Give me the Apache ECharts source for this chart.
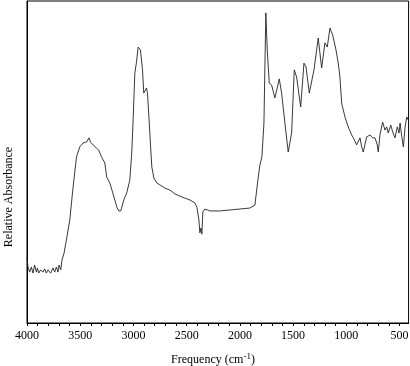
<!DOCTYPE html>
<html>
<head>
<meta charset="utf-8">
<script src="https://cdn.jsdelivr.net/npm/echarts@6/dist/echarts.min.js"></script>
<style>
html,body{margin:0;padding:0;background:#fff;}
#chart{width:410px;height:366px;}
</style>
</head>
<body>
<div id="chart"></div>
<script>
// Frequency (cm-1)
var frequency = [4000,3991,3975,3959,3944,3928,3912,3902,3890,3871,3850,3834,3818,3803,3777,3756,3740,3724,3709,3699,3683,3671,3652,3630,3598,3570,3535,3504,3473,3441,3426,3417,3404,3394,3379,3363,3347,3326,3300,3269,3251,3222,3194,3156,3138,3119,3091,3063,3034,3016,3003,2987,2971,2956,2947,2934,2915,2903,2893,2877,2868,2853,2837,2827,2808,2780,2752,2705,2658,2611,2564,2517,2470,2423,2404,2385,2376,2366,2357,2348,2329,2282,2188,2094,2000,1906,1859,1831,1812,1793,1774,1765,1756,1743,1724,1711,1702,1671,1630,1608,1577,1546,1514,1489,1467,1429,1398,1379,1348,1304,1264,1232,1201,1179,1154,1128,1097,1076,1060,1044,1013,982,950,934,903,872,856,841,809,778,752,731,709,700,684,659,637,621,606,583,564,543,521,505,495,479,464,448,432,418];
// Relative absorbance (arbitrary units)
var absorbance = [20.5,17.4,15.8,17.4,15.5,18.0,15.8,17.1,15.5,16.5,15.8,16.8,15.5,16.5,15.5,17.1,15.8,17.4,15.8,18.0,16.5,19.6,21.7,25.8,32.0,41.3,51.6,54.7,55.9,56.2,56.8,57.5,56.2,56.8,55.3,55.9,54.3,53.7,51.6,49.7,45.3,43.5,40.4,36.0,34.8,34.8,38.2,40.4,44.4,52.8,63.0,77.6,81.1,85.7,86.3,84.8,78.6,71.4,71.7,73.0,71.4,63.0,53.7,48.4,45.0,43.5,42.9,41.9,41.3,40.1,39.4,38.8,38.2,37.3,36.0,32.0,28.0,29.5,27.6,34.5,35.4,34.8,34.8,35.1,35.4,35.7,36.6,44.4,49.1,51.6,62.1,79.5,96.3,84.8,74.5,74.8,73.9,69.9,75.8,71.4,62.1,53.1,59.0,78.6,76.4,67.1,80.7,79.5,71.4,78.6,88.5,79.2,87.0,85.7,91.6,89.4,84.8,80.7,76.4,68.3,64.0,60.9,58.4,57.5,55.3,57.5,54.7,53.1,57.8,58.4,57.5,57.5,55.3,53.1,58.4,62.4,59.9,60.9,59.0,61.5,59.3,57.5,60.9,59.0,62.1,57.8,54.7,60.9,64.0,63.0];
var tickLabels = [4000,3500,3000,2500,2000,1500,1000,500];
var minorTicks = [4000,3900,3800,3700,3600,3500,3400,3300,3200,3100,3000,2900,2800,2700,2600,2500,2400,2300,2200,2100,2000,1900,1800,1700,1600,1500,1400,1300,1200,1100,1000,900,800,700,600,500];
var xTitle = 'Frequency (cm';
var xTitleSup = '-1';
var yTitle = 'Relative Absorbance';

var pts = frequency.map(function(f,i){return [f, absorbance[i]];});
var chart = echarts.init(document.getElementById('chart'), null, {renderer:'canvas'});
var serif = '"Liberation Serif", "DejaVu Serif", serif';
chart.setOption({
  animation:false,
  backgroundColor:'#fff',
  grid:{left:27,right:1.4,top:1,bottom:43,containLabel:false,outerBoundsMode:'none',show:true,borderColor:'#000',borderWidth:1,backgroundColor:'transparent'},
  xAxis:{
    type:'value', inverse:true, min:415, max:4000,
    splitLine:{show:false},
    axisLine:{show:true,lineStyle:{color:'#000',width:1}},
    axisTick:{show:true,inside:false,length:3,lineStyle:{color:'#000'},customValues:minorTicks},
    axisLabel:{customValues:tickLabels,formatter:function(v){return String(v);},hideOverlap:false,color:'#000',fontFamily:serif,fontSize:12,margin:7,showMinLabel:true,showMaxLabel:true}
  },
  yAxis:{
    type:'value', min:0, max:100,
    splitLine:{show:false},
    axisLine:{show:true,lineStyle:{color:'#000',width:1}},
    axisTick:{show:false},
    axisLabel:{show:false}
  },
  series:[{
    type:'line', data:pts, showSymbol:false, smooth:false,
    lineStyle:{color:'#222',width:0.9}
  }],
  graphic:[
    {type:'text',x:213,y:359,style:{
      text:'{a|'+xTitle+'}{s|'+xTitleSup+'}{a|)}',
      align:'center',verticalAlign:'middle',
      rich:{a:{fontFamily:serif,fontSize:12,fill:'#000',verticalAlign:'bottom'},s:{fontFamily:serif,fontSize:9,fill:'#000',verticalAlign:'top',padding:[0,0,5,0]}}
    }},
    {type:'text',x:9,y:197,rotation:Math.PI/2,style:{
      text:yTitle,align:'center',verticalAlign:'middle',fontFamily:serif,fontSize:12,fill:'#000'
    }}
  ]
});
</script>
</body>
</html>
